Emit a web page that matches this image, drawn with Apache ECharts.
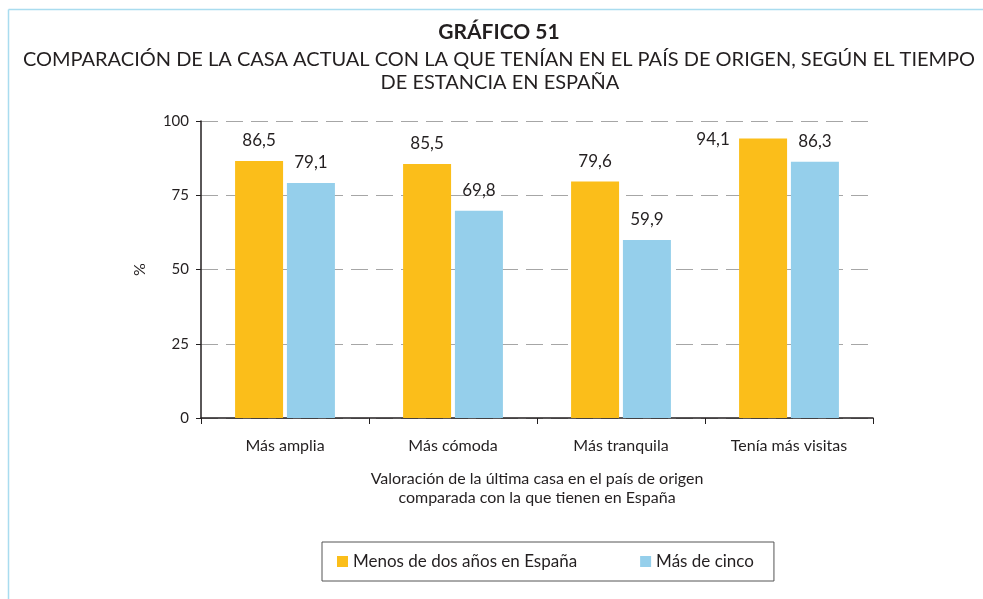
<!DOCTYPE html>
<html>
<head>
<meta charset="utf-8">
<script src="https://cdn.jsdelivr.net/npm/echarts@6/dist/echarts.min.js"></script>
<style>
  html, body { margin: 0; padding: 0; background: #fff; }
  #chart { width: 983px; height: 599px; }
</style>
</head>
<body>
<div id="chart"></div>
<script>
// Categories and values (%)
const categories = ['Más amplia', 'Más cómoda', 'Más tranquila', 'Tenía más visitas'];
const menosDosAnios = [86.5, 85.5, 79.6, 94.1];
const masDeCinco = [79.1, 69.8, 59.9, 86.3];
const yTicks = [0, 25, 50, 75, 100];
const seriesNames = ['Menos de dos años en España', 'Más de cinco'];

const FONT = 'Lato';
const TEXT = '#231f20';
const fmt = v => String(v).replace('.', ',');

const chart = echarts.init(document.getElementById('chart'), null, { renderer: 'canvas' });

function withLabels(values, idx) {
  return values.map((v, i) => {
    const item = { value: v };
    if (idx === 0 && i === 3) {
      // keep this label clear of the top gridline: place it beside the bar
      item.label = { offset: [-50, 21] };
    }
    return item;
  });
}

const barLabel = {
  show: true, position: 'top', distance: 12,
  fontFamily: FONT, fontSize: 17, color: TEXT,
  formatter: p => fmt(p.value)
};

const option = {
  backgroundColor: '#fff',
  animation: false,
  textStyle: { fontFamily: FONT },
  legend: {
    left: 322, top: 542,
    itemWidth: 11, itemHeight: 11, itemGap: 63,
    padding: [11, 20, 11, 15],
    borderColor: '#555', borderWidth: 1,
    icon: 'rect',
    textStyle: { fontFamily: FONT, fontSize: 17, color: TEXT },
    data: seriesNames
  },
  grid: { left: 201, right: 110, top: 121, bottom: 181 },
  xAxis: {
    type: 'category',
    data: categories,
    name: 'Valoración de la última casa en el país de origen\ncomparada con la que tienen en España',
    nameLocation: 'middle', nameGap: 51,
    nameTextStyle: { fontFamily: FONT, fontSize: 16, color: TEXT, lineHeight: 19 },
    axisLine: { lineStyle: { color: '#231f20', width: 1.5 } },
    axisTick: { show: true, length: 6, lineStyle: { color: '#231f20' } },
    axisLabel: { fontFamily: FONT, fontSize: 16, color: TEXT, margin: 20 }
  },
  yAxis: {
    type: 'value',
    min: 0, max: 100, interval: 25,
    name: '%', nameLocation: 'middle', nameGap: 53, nameRotate: 90,
    nameTextStyle: { fontFamily: FONT, fontSize: 16, color: TEXT },
    axisLine: { show: true, lineStyle: { color: '#231f20', width: 1.5 } },
    axisTick: { show: true, length: 5, lineStyle: { color: '#231f20' } },
    axisLabel: {
      fontFamily: FONT, fontSize: 15, color: TEXT, margin: 12,
      formatter: v => (yTicks.includes(v) ? String(v) : '')
    },
    splitLine: { show: true, lineStyle: { color: '#a6a6a6', type: [17, 8], width: 1.2 } }
  },
  series: [
    {
      name: seriesNames[0], type: 'bar',
      data: withLabels(menosDosAnios, 0),
      itemStyle: { color: '#fbbe1a' },
      barWidth: 48, barGap: '8%',
      label: barLabel
    },
    {
      name: seriesNames[1], type: 'bar',
      data: withLabels(masDeCinco, 1),
      itemStyle: { color: '#95cfeb' },
      barWidth: 48,
      label: barLabel
    }
  ],
  graphic: [
    // heading and two-line subtitle
    { type: 'text', x: 499, y: 32, silent: true,
      style: { text: 'GRÁFICO 51', font: 'bold 21px Lato', fill: TEXT, align: 'center', verticalAlign: 'middle' } },
    { type: 'text', x: 499, y: 60, silent: true,
      style: { text: 'COMPARACIÓN DE LA CASA ACTUAL CON LA QUE TENÍAN EN EL PAÍS DE ORIGEN, SEGÚN EL TIEMPO',
               font: '20px Lato', fill: TEXT, align: 'center', verticalAlign: 'middle' } },
    { type: 'text', x: 500, y: 83, silent: true,
      style: { text: 'DE ESTANCIA EN ESPAÑA',
               font: '20px Lato', fill: TEXT, align: 'center', verticalAlign: 'middle' } },
    // light blue frame (top and left edges)
    { type: 'line', shape: { x1: 8.5, y1: 9.5, x2: 983, y2: 9.5 }, style: { stroke: '#a9dcef', lineWidth: 1.5 }, silent: true },
    { type: 'line', shape: { x1: 8.5, y1: 9.5, x2: 8.5, y2: 599 }, style: { stroke: '#a9dcef', lineWidth: 1.5 }, silent: true }
  ]
};

chart.setOption(option);
</script>
</body>
</html>
